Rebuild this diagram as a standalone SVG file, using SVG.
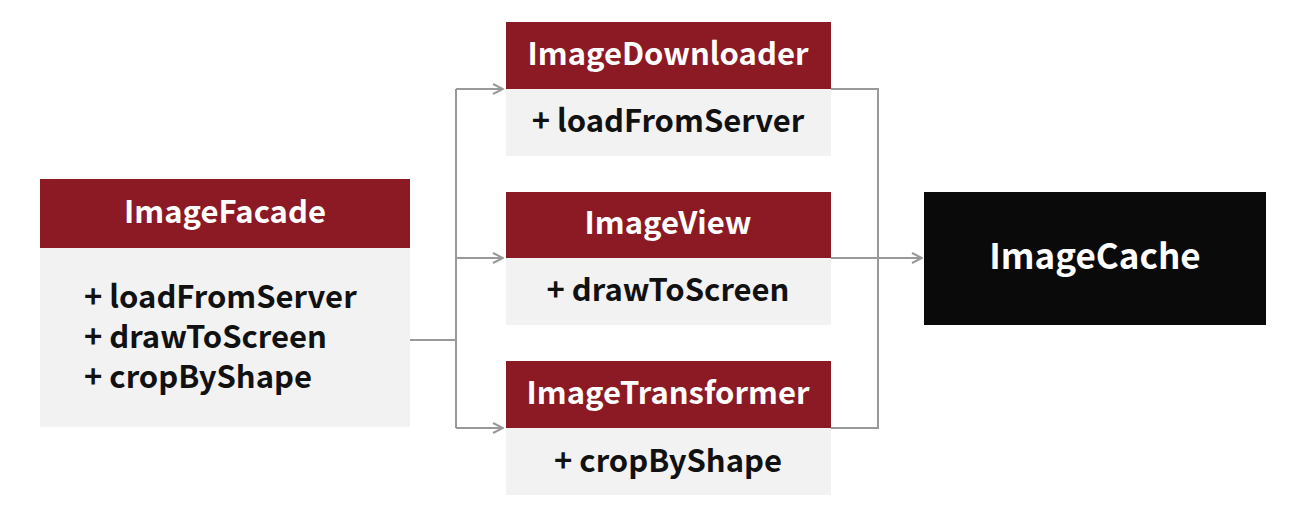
<svg xmlns="http://www.w3.org/2000/svg" width="1296" height="522" viewBox="0 0 1296 522">
<defs>
<marker id="arr" viewBox="0 0 12 12" refX="11" refY="6" markerWidth="12" markerHeight="12" markerUnits="userSpaceOnUse" orient="auto">
<path d="M1 1 L11 6 L1 11" fill="none" stroke="#999" stroke-width="2"/>
</marker>
</defs>
<style>
.hd{fill:#8C1A25}
.bd{fill:#F2F2F2}
.ht{font-family:"Noto Sans CJK KR","Noto Sans",sans-serif;font-weight:bold;font-size:31px;fill:#fff;text-anchor:middle}
.bt{font-family:"Noto Sans CJK KR","Noto Sans",sans-serif;font-weight:bold;font-size:31px;fill:#111}
.c{fill:none;stroke:#999;stroke-width:2}
</style>
<rect width="1296" height="522" fill="#fff"/>
<g id="connectors">
<path class="c" d="M410 340 H456"/>
<path class="c" d="M456 89 V428"/>
<path class="c" d="M456 89 H503" marker-end="url(#arr)"/>
<path class="c" d="M456 258 H503" marker-end="url(#arr)"/>
<path class="c" d="M456 428 H503" marker-end="url(#arr)"/>
<path class="c" d="M831 89 H878 V428 H831"/>
<path class="c" d="M831 258 H922" marker-end="url(#arr)"/>
</g>
<g id="ImageFacade">
<rect class="hd" x="40" y="179" width="370" height="69"/>
<rect class="bd" x="40" y="248" width="370" height="179"/>
<text class="ht" x="225" y="223">ImageFacade</text>
<text class="bt" x="84" y="308">+ loadFromServer</text>
<text class="bt" x="84" y="348">+ drawToScreen</text>
<text class="bt" x="84" y="388">+ cropByShape</text>
</g>
<g id="ImageDownloader">
<rect class="hd" x="506" y="22" width="325" height="67"/>
<rect class="bd" x="506" y="89" width="325" height="67"/>
<text class="ht" x="668" y="65">ImageDownloader</text>
<text class="bt" x="668" y="132" text-anchor="middle">+ loadFromServer</text>
</g>
<g id="ImageView">
<rect class="hd" x="506" y="192" width="325" height="66"/>
<rect class="bd" x="506" y="258" width="325" height="67"/>
<text class="ht" x="668" y="234">ImageView</text>
<text class="bt" x="668" y="301" text-anchor="middle">+ drawToScreen</text>
</g>
<g id="ImageTransformer">
<rect class="hd" x="506" y="361" width="325" height="67"/>
<rect class="bd" x="506" y="428" width="325" height="67"/>
<text class="ht" x="668" y="404">ImageTransformer</text>
<text class="bt" x="668" y="472" text-anchor="middle">+ cropByShape</text>
</g>
<g id="ImageCache">
<rect x="924" y="192" width="342" height="133" fill="#0A0A0A"/>
<text class="ht" x="1095" y="269" style="font-size:35px">ImageCache</text>
</g>
</svg>
